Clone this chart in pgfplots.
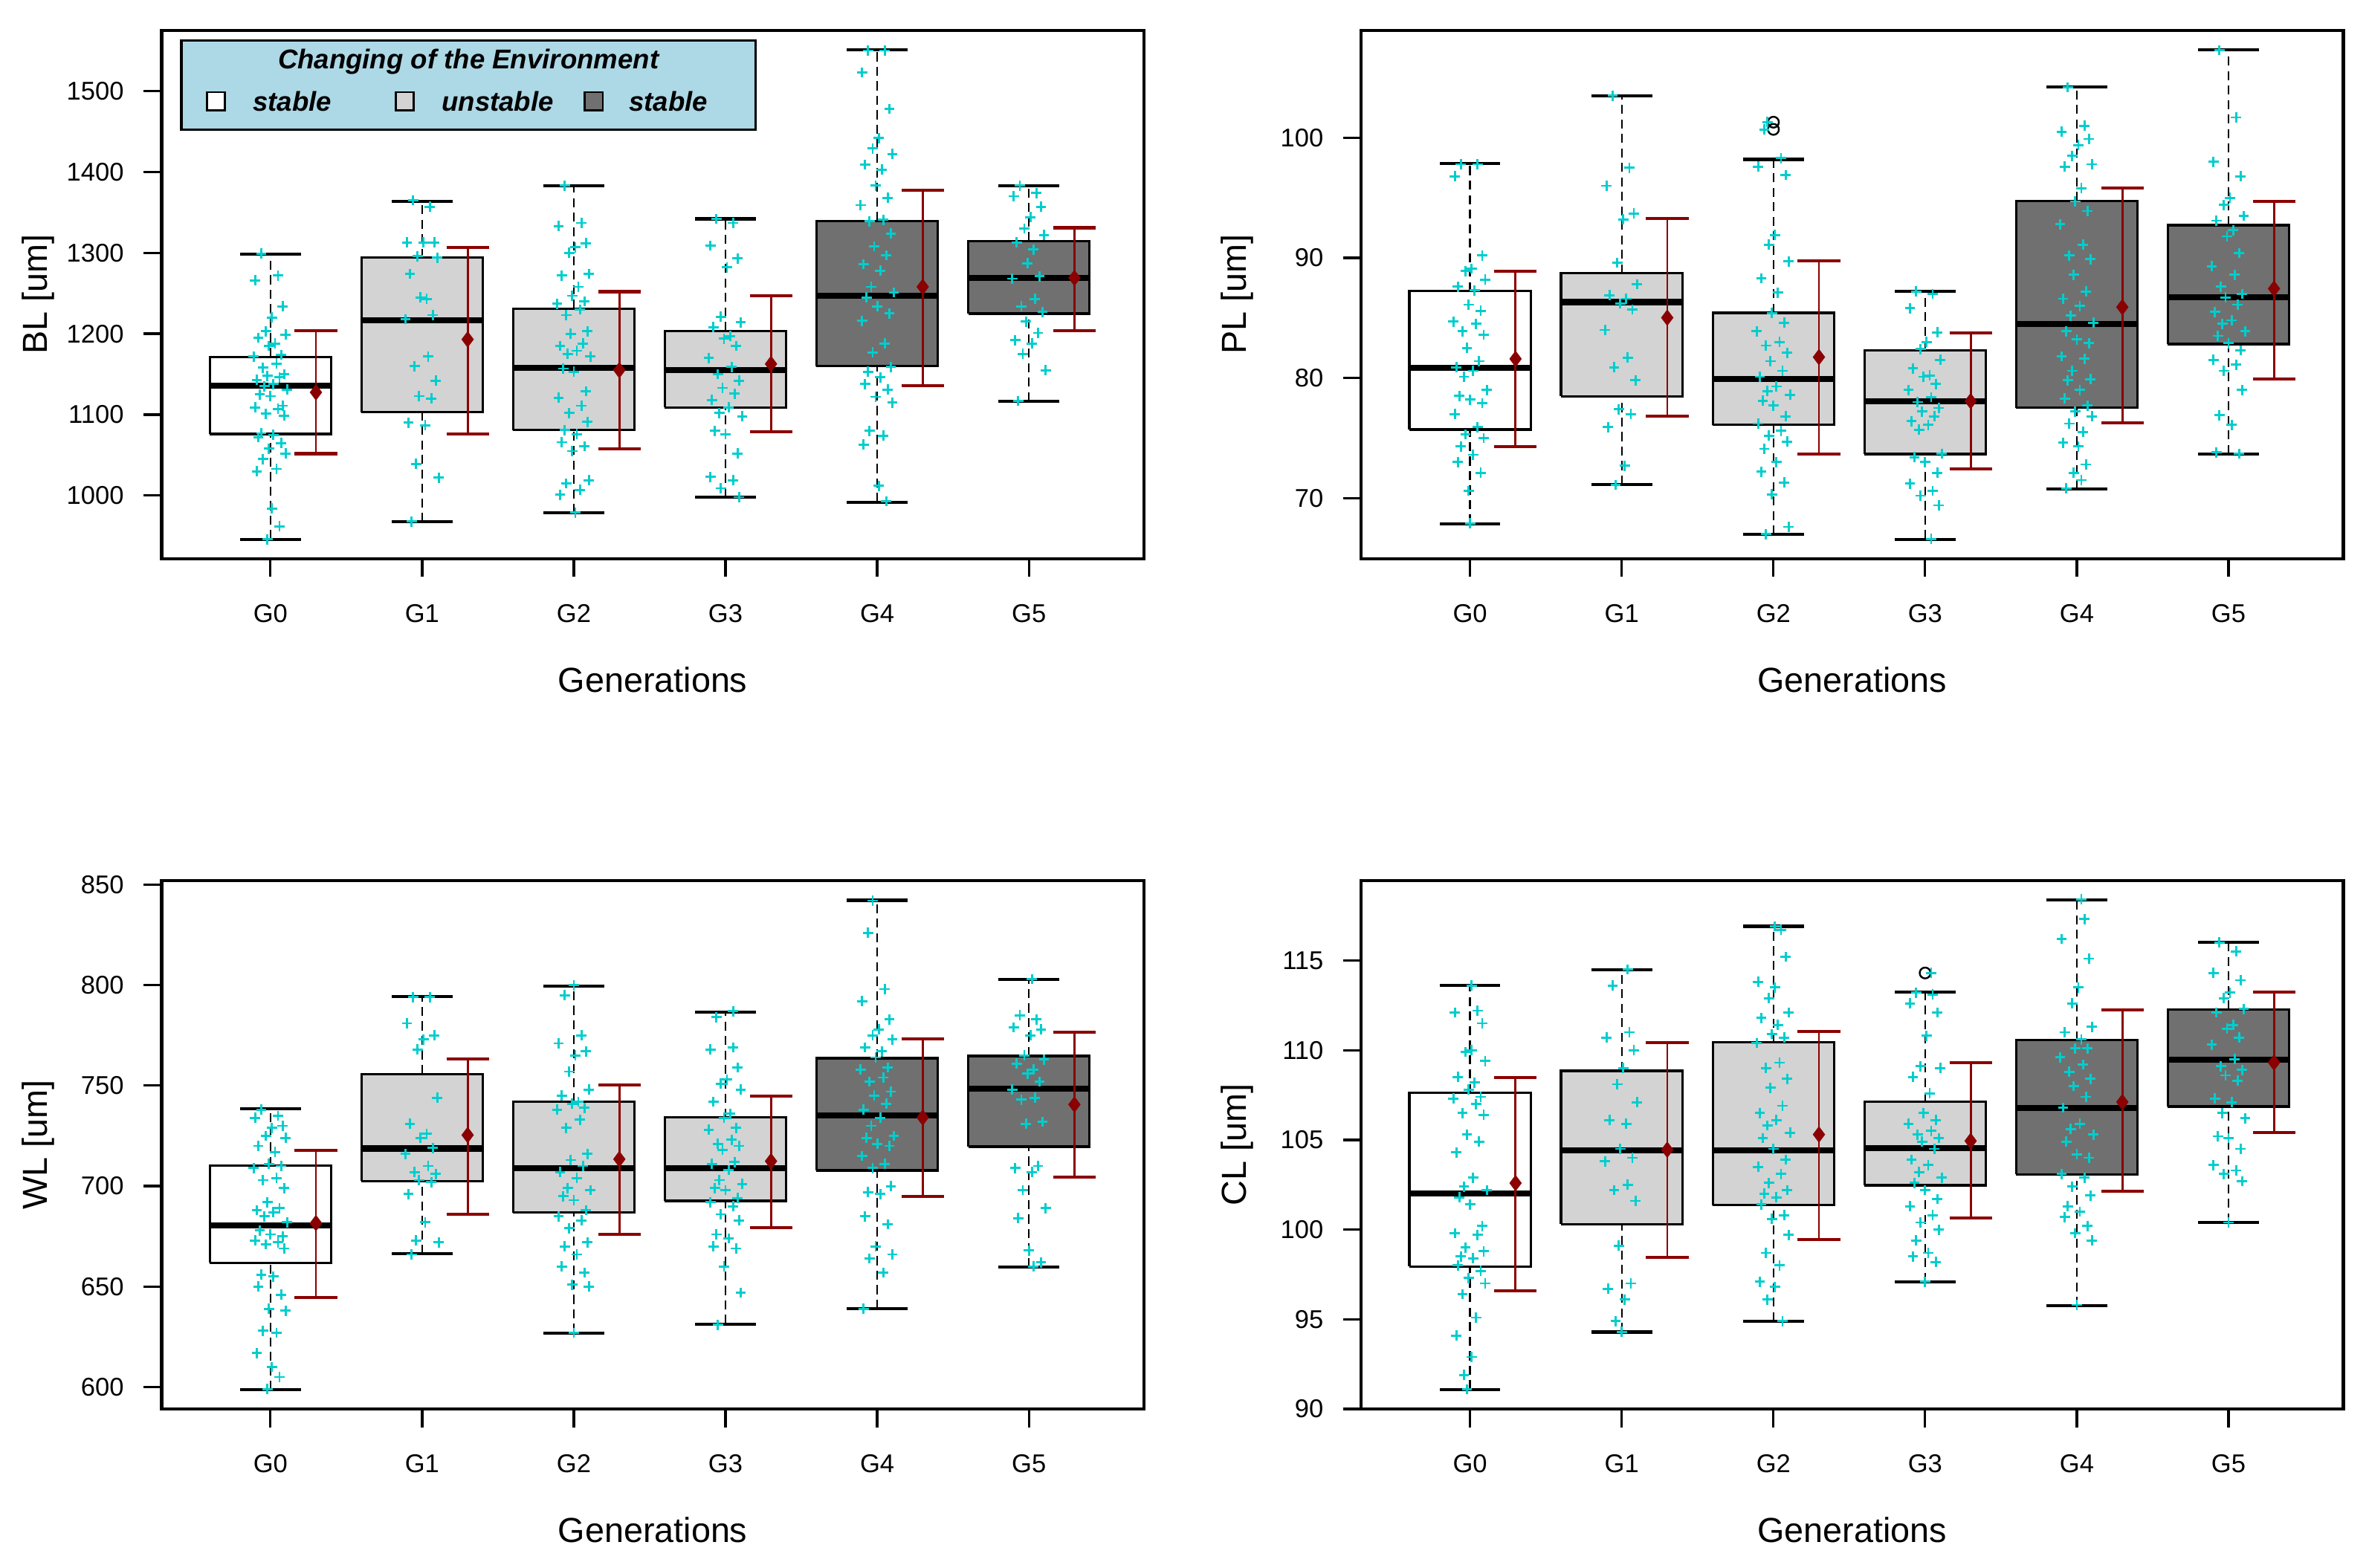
\documentclass[border=0pt]{standalone}
\usepackage{fontspec}
\setmainfont{Liberation Sans}
\usepackage{pgfplots}
\pgfplotsset{compat=1.18}

\definecolor{jit}{RGB}{0,205,205}
\definecolor{dred}{RGB}{139,0,0}
\definecolor{lgr}{RGB}{211,211,211}
\definecolor{dgr}{RGB}{112,112,112}
\definecolor{lblue}{RGB}{173,216,230}

\pgfplotsset{
  panel/.style={
    scale only axis, width=325pt, height=175pt, anchor=south west,
    xmin=0.283, xmax=6.757,
    xtick={1,2,3,4,5,6}, xticklabels={G0,G1,G2,G3,G4,G5},
    tick align=outside, xtick pos=left, ytick pos=left,
    major tick length=6pt,
    tick style={black, line width=0.8pt},
    axis line style={line width=1pt},
    ticklabel style={font=\fontsize{8.5}{10}\selectfont},
    xticklabel style={yshift=-5.5pt},
    yticklabel style={xshift=-3pt},
    label style={font=\fontsize{11.5}{13}\selectfont},
    xlabel={Generations},
    xlabel style={at={(axis description cs:0.5,-0.2286)}, anchor=center},
    ylabel style={at={(axis description cs:-0.126,0.5)}, anchor=center},
    /pgf/number format/assume math mode=true,
    /pgf/number format/1000 sep={},
  },
  jitter/.style={only marks, mark=+, mark size=1.7pt, color=jit, mark options={line width=0.7pt}},
  outl/.style={only marks, mark=o, mark size=1.8pt, black, mark options={line width=0.6pt}},
}

% box: pos, fill, lower whisker, q1, median, q3, upper whisker
\newcommand{\bx}[7]{%
  \addplot[black, line width=0.6pt, dash pattern=on 3pt off 1.8pt] coordinates {(#1,#3) (#1,#4)};
  \addplot[black, line width=0.6pt, dash pattern=on 3pt off 1.8pt] coordinates {(#1,#6) (#1,#7)};
  \addplot[black, line width=1pt] coordinates {({#1-0.2},#3) ({#1+0.2},#3)};
  \addplot[black, line width=1pt] coordinates {({#1-0.2},#7) ({#1+0.2},#7)};
  \addplot[draw=black, fill=#2, line width=0.8pt] coordinates {({#1-0.4},#4) ({#1+0.4},#4) ({#1+0.4},#6) ({#1-0.4},#6) ({#1-0.4},#4)};
  \addplot[black, line width=2pt] coordinates {({#1-0.4},#5) ({#1+0.4},#5)};
}
% mean +- sd: pos, mean, low, high
\newcommand{\mn}[4]{%
  \addplot[dred, line width=0.7pt] coordinates {(#1,#3) (#1,#4)};
  \addplot[dred, line width=1pt] coordinates {({#1-0.14},#3) ({#1+0.14},#3)};
  \addplot[dred, line width=1pt] coordinates {({#1-0.14},#4) ({#1+0.14},#4)};
  \addplot[dred, only marks, mark=diamond*, mark size=2.4pt] coordinates {(#1,#2)};
}

\begin{document}
\begin{tikzpicture}
\path[use as bounding box] (0,0) rectangle (784pt,519pt);

% ---------------- BL
\begin{axis}[panel, at={(53.5pt,334pt)}, ymin=921.8, ymax=1575.2,
  ytick={1000,1100,1200,1300,1400,1500}, ylabel={BL [um]}]
\bx{1}{white}{946}{1076}{1135.5}{1171.5}{1298.7}
\bx{2}{lgr}{967.5}{1103}{1217}{1294}{1363.6}
\bx{3}{lgr}{978.5}{1081}{1157.5}{1231}{1382.5}
\bx{4}{lgr}{998}{1109}{1155}{1203.5}{1342}
\bx{5}{dgr}{992}{1160}{1247}{1339.5}{1551}
\bx{6}{dgr}{1116.7}{1225}{1269}{1314.5}{1382.5}
\addplot[jitter] coordinates {
(0.94,1299)(1.05,1272)(0.90,1266)(1.08,1234)(1.01,1220)(0.97,1203)(1.10,1199)(0.92,1195)(1.03,1188)(0.99,1185)(1.07,1174)(0.89,1172)(1.04,1163)(0.95,1158)(1.09,1150)(0.98,1148)(1.06,1146)(0.91,1143)(1.02,1138)(0.96,1135)(1.11,1131)(0.93,1125)(1.00,1123)(1.08,1111)(0.90,1109)(1.05,1107)(0.97,1101)(1.09,1099)(0.94,1077)(1.02,1075)(0.92,1072)(1.07,1065)(0.99,1058)(1.10,1052)(0.95,1045)(1.04,1033)(0.91,1030)(1.01,984)(1.06,962)(0.98,946)
(1.94,1365)(2.05,1357)(1.90,1313)(2.08,1313)(2.01,1313)(1.97,1296)(2.10,1294)(1.92,1274)(2.03,1243)(1.99,1245)(2.07,1223)(1.89,1218)(2.04,1172)(1.95,1160)(2.09,1142)(1.98,1123)(2.06,1120)(1.91,1090)(2.02,1087)(1.96,1039)(2.11,1022)(1.93,968)
(2.94,1383)(3.05,1337)(2.90,1333)(3.08,1312)(3.01,1307)(2.97,1300)(3.10,1274)(2.92,1272)(3.03,1258)(2.99,1247)(3.07,1240)(2.89,1237)(3.04,1230)(2.95,1223)(3.09,1203)(2.98,1200)(3.06,1188)(2.91,1185)(3.02,1179)(2.96,1175)(3.11,1172)(2.93,1157)(3.00,1153)(3.08,1129)(2.90,1121)(3.05,1111)(2.97,1102)(3.09,1091)(2.94,1081)(3.02,1076)(2.92,1066)(3.07,1061)(2.99,1055)(3.10,1019)(2.95,1015)(3.04,1007)(2.91,1001)(3.01,979)
(3.94,1342)(4.05,1337)(3.90,1309)(4.08,1293)(4.01,1282)(3.97,1221)(4.10,1214)(3.92,1208)(4.03,1197)(3.99,1194)(4.07,1185)(3.89,1170)(4.04,1159)(3.95,1150)(4.09,1142)(3.98,1133)(4.06,1126)(3.91,1118)(4.02,1109)(3.96,1102)(4.11,1098)(3.93,1080)(4.00,1076)(4.08,1052)(3.90,1023)(4.05,1019)(3.97,1009)(4.09,998)
(4.94,1550)(5.05,1550)(4.90,1523)(5.08,1478)(5.01,1442)(4.97,1429)(5.10,1422)(4.92,1409)(5.03,1403)(4.99,1383)(5.07,1368)(4.89,1359)(5.04,1341)(4.95,1339)(5.09,1324)(4.98,1308)(5.06,1297)(4.91,1286)(5.02,1278)(4.96,1258)(5.11,1251)(4.93,1245)(5.00,1234)(5.08,1225)(4.90,1216)(5.05,1188)(4.97,1177)(5.09,1159)(4.94,1153)(5.02,1146)(4.92,1138)(5.07,1131)(4.99,1122)(5.10,1115)(4.95,1080)(5.04,1074)(4.91,1063)(5.01,1012)(5.06,993)
(5.94,1383)(6.05,1374)(5.90,1370)(6.08,1357)(6.01,1344)(5.97,1330)(6.10,1322)(5.92,1313)(6.03,1304)(5.99,1287)(6.07,1271)(5.89,1268)(6.04,1243)(5.95,1234)(6.09,1227)(5.98,1215)(6.06,1201)(5.91,1192)(6.02,1188)(5.96,1175)(6.11,1155)(5.93,1117)
};
\mn{1.3}{1127.6}{1051.8}{1203.5}
\mn{2.3}{1193}{1076}{1307}
\mn{3.3}{1155}{1057.5}{1252}
\mn{4.3}{1162.7}{1079}{1247}
\mn{5.3}{1258}{1136}{1377}
\mn{6.3}{1269}{1203.5}{1331}
\end{axis}

% ---------------- PL
\begin{axis}[panel, at={(450.5pt,334pt)}, ymin=64.94, ymax=108.96,
  ytick={70,80,90,100}, ylabel={PL [um]}]
\bx{1}{white}{67.87}{75.7}{80.85}{87.23}{97.84}
\bx{2}{lgr}{71.12}{78.48}{86.32}{88.71}{103.49}
\bx{3}{lgr}{66.96}{76.09}{79.9}{85.43}{98.2}
\bx{4}{lgr}{66.57}{73.67}{78.07}{82.3}{87.2}
\bx{5}{dgr}{70.77}{77.51}{84.48}{94.74}{104.23}
\bx{6}{dgr}{73.67}{82.83}{86.7}{92.73}{107.33}
\addplot[outl] coordinates {(3,101.3) (3,100.7)};
\addplot[jitter] coordinates {
(0.94,97.8)(1.05,97.8)(0.90,96.8)(1.08,90.2)(1.01,89.1)(0.97,88.9)(1.10,88.2)(0.92,87.6)(1.03,87.3)(0.99,86.1)(1.07,85.6)(0.89,84.7)(1.04,84.5)(0.95,83.9)(1.09,83.6)(0.98,82.5)(1.06,81.4)(0.91,80.9)(1.02,80.6)(0.96,80.1)(1.11,79.0)(0.93,78.5)(1.00,78.2)(1.08,77.9)(0.90,77.0)(1.05,75.9)(0.97,75.3)(1.09,75.0)(0.94,74.3)(1.02,73.6)(0.92,73.0)(1.07,72.1)(0.99,70.6)(1.00,67.9)
(1.94,103.5)(2.05,97.5)(1.90,96.0)(2.08,93.7)(2.01,93.2)(1.97,89.6)(2.10,87.8)(1.92,86.9)(2.03,86.6)(1.99,86.2)(2.07,85.7)(1.89,84.0)(2.04,81.7)(1.95,80.9)(2.09,79.8)(1.98,77.4)(2.06,77.0)(1.91,75.9)(2.02,72.7)(1.96,71.1)
(2.96,101.3)(2.94,100.7)(3.05,98.3)(2.90,97.6)(3.08,96.9)(3.01,91.9)(2.97,91.1)(3.10,89.7)(2.92,88.3)(3.03,87.1)(2.99,85.4)(3.07,84.6)(2.89,83.9)(3.04,83.0)(2.95,82.7)(3.09,82.1)(2.98,81.4)(3.06,80.6)(2.91,80.1)(3.02,79.3)(2.96,78.9)(3.11,78.6)(2.93,78.1)(3.00,77.7)(3.08,76.8)(2.90,76.2)(3.05,75.6)(2.97,75.2)(3.09,74.7)(2.94,74.1)(3.02,73.0)(2.92,72.2)(3.07,71.3)(2.99,70.3)(3.10,67.6)(2.95,67.0)
(3.94,87.2)(4.05,87.0)(3.90,85.8)(4.08,83.8)(4.01,83.0)(3.97,82.4)(4.10,81.5)(3.92,80.8)(4.03,80.2)(3.99,80.1)(4.07,79.5)(3.89,79.0)(4.04,78.4)(3.95,78.0)(4.09,77.5)(3.98,77.2)(4.06,76.8)(3.91,76.4)(4.02,76.1)(3.96,75.7)(4.11,73.7)(3.93,73.4)(4.00,73.0)(4.08,72.1)(3.90,71.2)(4.05,70.6)(3.97,70.2)(4.09,69.4)(4.04,66.6)
(4.94,104.2)(5.05,101.0)(4.90,100.5)(5.08,99.9)(5.01,99.4)(4.97,98.5)(5.10,97.8)(4.92,97.6)(5.03,95.8)(4.99,94.7)(5.07,93.9)(4.89,92.8)(5.04,91.1)(4.95,90.2)(5.09,89.9)(4.98,88.6)(5.06,87.2)(4.91,86.6)(5.02,86.0)(4.96,85.2)(5.11,84.6)(4.93,83.9)(5.00,83.2)(5.08,82.9)(4.90,81.8)(5.05,81.6)(4.97,80.6)(5.09,79.9)(4.94,79.8)(5.02,79.0)(4.92,78.3)(5.07,77.7)(4.99,77.2)(5.10,76.8)(4.95,76.2)(5.04,75.5)(4.91,74.6)(5.01,74.3)(5.06,72.8)(4.98,72.1)(5.03,71.5)(4.93,70.8)
(5.94,107.3)(6.05,101.7)(5.90,98.0)(6.08,96.8)(6.01,95.0)(5.97,94.4)(6.10,93.5)(5.92,93.1)(6.03,92.3)(5.99,91.8)(6.07,90.4)(5.89,89.3)(6.04,88.6)(5.95,87.6)(6.09,87.0)(5.98,86.7)(6.06,86.1)(5.91,85.5)(6.02,84.8)(5.96,84.5)(6.11,83.9)(5.93,83.5)(6.00,82.9)(6.08,82.3)(5.90,81.5)(6.05,81.1)(5.97,80.6)(6.09,79.0)(5.94,76.9)(6.02,76.1)(5.92,73.8)(6.07,73.7)
};
\mn{1.3}{81.59}{74.26}{88.86}
\mn{2.3}{85.02}{76.8}{93.26}
\mn{3.3}{81.74}{73.67}{89.78}
\mn{4.3}{78.07}{72.42}{83.75}
\mn{5.3}{85.9}{76.27}{95.84}
\mn{6.3}{87.44}{79.9}{94.68}
\end{axis}

% ---------------- WL
\begin{axis}[panel, at={(53.5pt,52.5pt)}, ymin=589, ymax=852,
  ytick={600,650,700,750,800,850}, ylabel={WL [um]}]
\bx{1}{white}{598.6}{661.8}{680.6}{710.1}{738.5}
\bx{2}{lgr}{666.3}{702.5}{718.7}{755.8}{794.2}
\bx{3}{lgr}{627}{686.9}{708.8}{741.9}{799.6}
\bx{4}{lgr}{631.4}{692.6}{708.8}{734.1}{786.6}
\bx{5}{dgr}{639}{707.8}{735.2}{763.6}{842.2}
\bx{6}{dgr}{659.7}{719.6}{748.4}{764.7}{802.8}
\addplot[jitter] coordinates {
(0.94,738)(1.05,735)(0.90,734)(1.08,730)(1.01,729)(0.97,725)(1.10,724)(0.92,720)(1.03,717)(0.99,711)(1.07,710)(0.89,709)(1.04,704)(0.95,703)(1.09,699)(0.98,692)(1.06,689)(0.91,688)(1.02,687)(0.96,685)(1.11,682)(0.93,678)(1.00,676)(1.08,675)(0.90,673)(1.05,672)(0.97,671)(1.09,669)(0.94,656)(1.02,655)(0.92,650)(1.07,646)(0.99,639)(1.10,638)(0.95,628)(1.04,627)(0.91,617)(1.01,610)(1.06,605)(0.98,599)
(1.94,794)(2.05,794)(1.90,781)(2.08,775)(2.01,773)(1.97,768)(2.10,744)(1.92,731)(2.03,726)(1.99,724)(2.07,719)(1.89,716)(2.04,710)(1.95,707)(2.09,706)(1.98,703)(2.06,702)(1.91,696)(2.02,682)(1.96,673)(2.11,672)(1.93,666)
(3.00,800)(2.94,795)(3.05,775)(2.90,771)(3.08,767)(3.01,765)(2.97,757)(3.10,748)(2.92,745)(3.03,742)(2.99,741)(3.07,739)(2.89,738)(3.04,733)(2.95,729)(3.09,716)(2.98,713)(3.06,710)(2.91,707)(3.02,704)(2.96,699)(3.11,698)(2.93,695)(3.00,693)(3.08,688)(2.90,685)(3.05,683)(2.97,679)(3.09,672)(2.94,670)(3.02,666)(2.92,660)(3.07,657)(2.99,651)(3.10,650)(3.00,627)
(4.05,787)(3.94,784)(4.05,769)(3.90,768)(4.08,759)(4.01,753)(3.97,751)(4.10,748)(3.92,742)(4.03,736)(3.99,734)(4.07,729)(3.89,728)(4.04,723)(3.95,721)(4.09,720)(3.98,718)(4.06,712)(3.91,711)(4.02,708)(3.96,703)(4.11,701)(3.93,699)(4.00,698)(4.08,694)(3.90,692)(4.05,690)(3.97,686)(4.09,683)(3.94,676)(4.02,674)(3.92,670)(4.07,669)(3.99,660)(4.10,647)(3.95,631)
(4.97,842)(4.94,826)(5.05,798)(4.90,792)(5.08,783)(5.01,778)(4.97,775)(5.10,773)(4.92,769)(5.03,767)(4.99,764)(5.07,759)(4.89,758)(5.04,754)(4.95,752)(5.09,747)(4.98,745)(5.06,741)(4.91,738)(5.02,734)(4.96,730)(5.11,725)(4.93,724)(5.00,721)(5.08,720)(4.90,715)(5.05,711)(4.97,709)(5.09,700)(4.94,697)(5.02,696)(4.92,685)(5.07,681)(4.99,670)(5.10,666)(4.95,664)(5.04,657)(4.91,639)
(6.02,803)(5.94,785)(6.05,783)(5.90,779)(6.08,778)(6.01,775)(5.97,765)(6.10,763)(5.92,761)(6.03,758)(5.99,756)(6.07,752)(5.89,748)(6.04,744)(5.95,743)(6.09,732)(5.98,731)(6.06,710)(5.91,709)(6.02,707)(5.96,698)(6.11,689)(5.93,684)(6.00,668)(6.08,662)(6.03,660)
};
\mn{1.3}{681.6}{644.5}{717.8}
\mn{2.3}{725.4}{686}{763.4}
\mn{3.3}{713.4}{676.1}{750.4}
\mn{4.3}{712.4}{679.5}{744.9}
\mn{5.3}{734.1}{694.7}{773.3}
\mn{6.3}{740.6}{704.6}{776.7}
\end{axis}

% ---------------- CL
\begin{axis}[panel, at={(450.5pt,52.5pt)}, ymin=89.99, ymax=119.45,
  ytick={90,95,100,105,110,115}, ylabel={CL [um]}]
\bx{1}{white}{91.1}{97.94}{102.0}{107.61}{113.6}
\bx{2}{lgr}{94.29}{100.3}{104.41}{108.85}{114.47}
\bx{3}{lgr}{94.9}{101.36}{104.41}{110.43}{116.9}
\bx{4}{lgr}{97.09}{102.47}{104.55}{107.13}{113.24}
\bx{5}{dgr}{95.75}{103.08}{106.76}{110.55}{118.36}
\bx{6}{dgr}{100.4}{106.86}{109.45}{112.27}{116.03}
\addplot[outl] coordinates {(4,114.3)};
\addplot[jitter] coordinates {
(1.01,113.6)(1.05,112.2)(0.90,112.1)(1.08,111.5)(1.01,110.0)(0.97,109.9)(1.10,109.4)(0.92,108.5)(1.03,108.2)(0.99,107.8)(1.07,107.4)(0.89,107.3)(1.04,107.0)(0.95,106.5)(1.09,106.4)(0.98,105.3)(1.06,104.9)(0.91,104.3)(1.02,102.9)(0.96,102.4)(1.11,102.2)(0.93,101.8)(1.00,101.4)(1.08,100.2)(0.90,99.8)(1.05,99.7)(0.97,99.0)(1.09,98.8)(0.94,98.5)(1.02,98.4)(0.92,98.0)(1.07,97.7)(0.99,97.3)(1.10,97.0)(0.95,96.4)(1.04,95.1)(0.91,94.1)(1.01,92.9)(0.96,91.9)(0.98,91.1)
(2.04,114.5)(1.94,113.6)(2.05,111.0)(1.90,110.7)(2.08,110.0)(2.01,109.0)(1.97,108.1)(2.10,107.1)(1.92,106.1)(2.03,105.9)(1.99,104.5)(2.07,104.0)(1.89,103.8)(2.04,102.5)(1.95,102.2)(2.09,101.6)(1.98,99.1)(2.06,97.0)(1.91,96.7)(2.02,96.1)(1.96,94.9)(2.00,94.3)
(3.01,116.9)(3.05,116.7)(3.08,115.2)(2.90,113.8)(3.01,113.5)(2.97,112.9)(3.10,112.1)(2.92,111.8)(3.03,111.4)(2.99,110.9)(3.07,110.7)(2.89,110.4)(3.04,109.3)(2.95,109.0)(3.09,108.4)(2.98,107.9)(3.06,106.9)(2.91,106.5)(3.02,106.1)(2.96,105.8)(3.11,105.4)(2.93,105.1)(3.00,104.5)(3.08,103.9)(2.90,103.5)(3.05,103.1)(2.97,102.6)(3.09,102.2)(2.94,102.0)(3.02,101.8)(2.92,101.4)(3.07,100.8)(2.99,100.6)(3.10,99.7)(2.95,98.7)(3.04,98.0)(2.91,97.1)(3.01,96.8)(2.96,96.1)(3.06,94.9)
(4.04,114.3)(3.94,113.2)(4.05,113.1)(3.90,112.6)(4.08,112.1)(4.01,110.8)(3.97,109.1)(4.10,109.0)(3.92,108.5)(4.03,107.6)(3.99,106.5)(4.07,106.1)(3.89,105.9)(4.04,105.5)(3.95,105.3)(4.09,105.1)(3.98,104.9)(4.06,104.5)(3.91,103.9)(4.02,103.6)(3.96,103.2)(4.11,102.9)(3.93,102.6)(4.00,102.2)(4.08,101.7)(3.90,101.3)(4.05,100.8)(3.97,100.4)(4.09,100.0)(3.94,99.4)(4.02,98.7)(3.92,98.5)(4.07,98.2)(4.00,97.1)
(5.03,118.4)(5.05,117.3)(4.90,116.2)(5.08,115.1)(5.01,113.5)(4.97,112.6)(5.10,111.3)(4.92,111.0)(5.03,110.6)(4.99,110.1)(5.07,110.1)(4.89,109.6)(5.04,109.2)(4.95,108.8)(5.09,108.4)(4.98,108.0)(5.06,107.4)(4.91,106.8)(5.02,105.9)(4.96,105.6)(5.11,105.3)(4.93,104.9)(5.00,104.2)(5.08,104.0)(4.90,103.1)(5.05,102.9)(4.97,102.4)(5.09,101.9)(4.94,101.3)(5.02,101.0)(4.92,100.7)(5.07,100.2)(4.99,99.8)(5.10,99.4)(5.00,95.8)
(5.94,116.0)(6.05,115.5)(5.90,114.3)(6.08,113.9)(6.01,113.2)(5.97,112.9)(6.10,112.3)(5.92,112.1)(6.03,111.4)(5.99,111.2)(6.07,110.7)(5.89,110.3)(6.04,109.5)(5.95,109.1)(6.09,108.9)(5.98,108.6)(6.06,108.3)(5.91,107.3)(6.02,107.1)(5.96,106.5)(6.11,106.2)(5.93,105.2)(6.00,105.1)(6.08,104.5)(5.90,103.6)(6.05,103.3)(5.97,103.1)(6.09,102.7)(6.00,100.4)
};
\mn{1.3}{102.59}{96.6}{108.46}
\mn{2.3}{104.45}{98.44}{110.42}
\mn{3.3}{105.3}{99.43}{111.03}
\mn{4.3}{104.94}{100.65}{109.31}
\mn{5.3}{107.11}{102.13}{112.25}
\mn{6.3}{109.31}{105.42}{113.22}
\end{axis}

% legend of the first panel
\draw[fill=lblue, line width=0.8pt] (60pt,476pt) rectangle (250pt,505.5pt);
\node[font=\bfseries\itshape\fontsize{9}{10}\selectfont] at (155pt,498.5pt) {Changing of the Environment};
\draw[fill=white, line width=0.7pt] (68.5pt,482.5pt) rectangle (74.5pt,488.5pt);
\draw[fill=lgr, line width=0.7pt] (131pt,482.5pt) rectangle (137pt,488.5pt);
\draw[fill=dgr, line width=0.7pt] (193.5pt,482.5pt) rectangle (199.5pt,488.5pt);
\node[anchor=west, inner sep=0pt, font=\bfseries\itshape\fontsize{9}{10}\selectfont] at (83.5pt,485.5pt) {stable};
\node[anchor=west, inner sep=0pt, font=\bfseries\itshape\fontsize{9}{10}\selectfont] at (146pt,485.5pt) {unstable};
\node[anchor=west, inner sep=0pt, font=\bfseries\itshape\fontsize{9}{10}\selectfont] at (208pt,485.5pt) {stable};
\end{tikzpicture}
\end{document}
